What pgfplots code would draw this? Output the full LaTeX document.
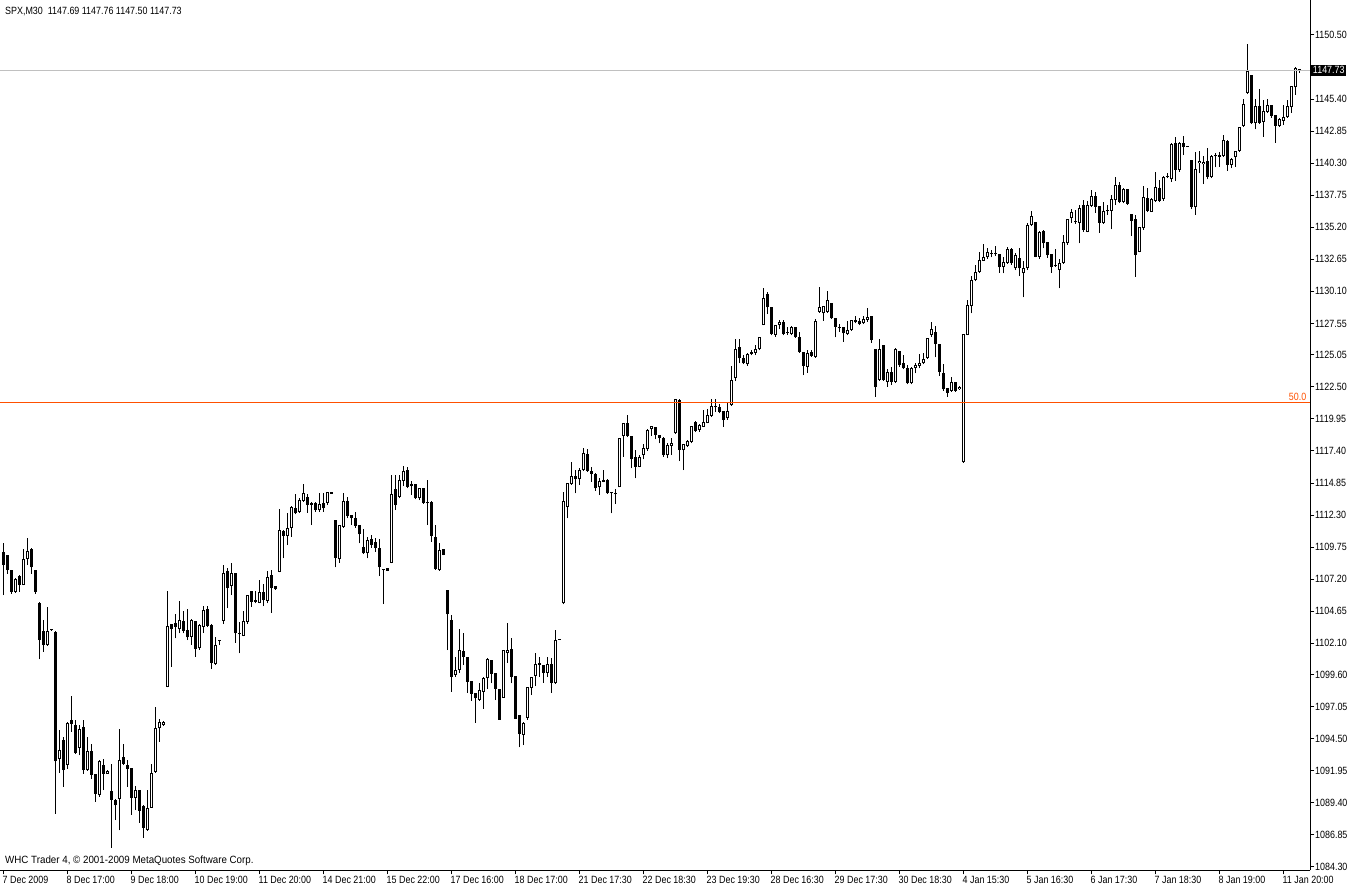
\documentclass[border=0pt]{standalone}
\usepackage{fontspec}
\setmainfont[FakeStretch=0.85]{Liberation Sans}
\newfontfamily\widefont[FakeStretch=0.93]{Liberation Sans}
\usepackage{pgfplots}
\usepackage{pgfplotstable}
\pgfplotsset{compat=1.18}
\definecolor{fibo}{RGB}{255,80,0}
\definecolor{bidline}{RGB}{192,192,192}
\newcommand\mt{\fontsize{10.5}{12}\selectfont}

% SPX M30 bars: index, open, high, low, close
\pgfplotstableread{
i o h l c
0 1109.38 1110.04 1105.93 1108.31
1 1109.11 1109.11 1107.65 1107.92
2 1107.92 1107.92 1106.06 1106.19
3 1106.19 1107.30 1106.10 1107.25
4 1107.44 1107.52 1106.19 1106.72
5 1106.72 1109.64 1106.70 1108.84
6 1108.84 1110.44 1108.31 1109.43
7 1109.64 1109.70 1107.65 1108.13
8 1107.92 1107.95 1106.01 1106.19
9 1105.32 1105.35 1100.81 1102.35
10 1103.06 1103.94 1101.42 1101.95
11 1101.95 1104.95 1101.90 1103.06
12 1103.22 1103.25 1103.10 1103.12
13 1103.01 1103.05 1088.55 1092.71
14 1092.93 1095.18 1091.81 1093.64
15 1094.39 1094.65 1090.67 1092.00
16 1092.40 1095.85 1092.13 1095.77
17 1096.03 1097.89 1095.05 1095.71
18 1095.58 1095.98 1093.30 1093.38
19 1093.80 1095.58 1093.19 1095.26
20 1095.45 1095.98 1091.73 1092.00
21 1092.00 1094.65 1091.95 1093.54
22 1093.54 1094.12 1091.34 1091.60
23 1091.68 1091.70 1089.48 1090.14
24 1090.06 1092.85 1089.88 1092.74
25 1092.45 1092.93 1090.41 1091.73
26 1091.73 1092.00 1091.70 1091.95
27 1090.33 1092.53 1085.82 1089.66
28 1089.66 1089.70 1088.02 1089.21
29 1089.74 1095.26 1087.22 1092.79
30 1093.06 1094.12 1092.40 1092.53
31 1092.45 1092.79 1090.67 1092.08
32 1092.18 1092.20 1088.47 1089.80
33 1089.80 1090.73 1088.82 1090.41
34 1090.41 1090.45 1087.81 1088.77
35 1089.14 1089.20 1086.62 1087.41
36 1087.28 1090.41 1087.20 1089.03
37 1089.03 1092.53 1089.00 1091.74
38 1091.87 1096.99 1091.80 1095.32
39 1095.32 1096.04 1094.26 1095.85
40 1095.58 1095.90 1095.55 1095.85
41 1098.64 1106.25 1098.60 1103.46
42 1103.62 1103.65 1100.23 1103.20
43 1103.68 1104.42 1102.48 1103.41
44 1103.20 1105.45 1102.88 1103.94
45 1103.86 1104.66 1102.88 1103.09
46 1103.15 1104.79 1102.35 1102.56
47 1102.61 1104.00 1101.95 1103.94
48 1103.86 1103.90 1101.02 1101.63
49 1101.69 1103.62 1101.60 1103.54
50 1103.41 1105.06 1102.93 1104.74
51 1104.79 1105.06 1103.40 1103.46
52 1103.54 1103.60 1100.04 1100.55
53 1100.44 1102.56 1100.36 1101.95
54 1102.32 1102.32 1101.95 1102.28
55 1103.89 1108.32 1103.62 1107.66
56 1107.84 1108.05 1104.87 1106.46
57 1106.65 1108.45 1105.93 1107.71
58 1107.66 1107.70 1102.14 1102.88
59 1102.86 1103.76 1101.29 1102.83
60 1102.69 1104.66 1102.65 1103.89
61 1103.81 1105.95 1103.62 1105.93
62 1106.25 1106.28 1105.00 1105.40
63 1105.53 1106.25 1105.27 1105.40
64 1105.32 1107.13 1105.27 1106.20
65 1106.20 1106.81 1105.06 1105.53
66 1105.48 1107.87 1105.27 1107.34
67 1107.52 1107.92 1104.52 1106.46
68 1106.65 1106.68 1106.35 1106.38
69 1107.79 1112.75 1107.75 1111.10
70 1111.05 1111.10 1108.85 1110.63
71 1110.63 1112.43 1109.91 1111.24
72 1111.31 1113.00 1110.57 1112.96
73 1112.83 1113.94 1112.35 1112.43
74 1112.56 1113.62 1112.50 1113.49
75 1113.44 1114.76 1113.36 1114.02
76 1113.76 1113.94 1112.48 1113.09
77 1113.09 1113.36 1111.50 1113.23
78 1113.23 1113.36 1112.56 1112.69
79 1112.69 1114.02 1112.56 1113.17
80 1113.23 1114.02 1112.56 1112.83
81 1113.28 1114.15 1113.09 1114.15
82 1114.10 1114.12 1113.98 1114.00
83 1111.90 1111.90 1108.13 1108.90
84 1108.77 1111.50 1108.50 1111.50
85 1111.37 1114.07 1111.30 1113.44
86 1113.44 1113.76 1112.03 1112.22
87 1112.30 1112.30 1111.50 1112.03
88 1112.08 1112.56 1111.31 1111.45
89 1111.50 1111.50 1110.04 1110.76
90 1109.78 1111.16 1109.20 1109.25
91 1109.25 1110.57 1108.85 1110.31
92 1110.36 1110.70 1109.70 1109.91
93 1110.17 1110.49 1109.38 1109.70
94 1109.70 1110.36 1107.44 1108.13
95 1108.00 1108.00 1105.21 1107.92
96 1108.08 1108.10 1107.85 1107.87
97 1108.50 1115.48 1108.45 1113.97
98 1114.34 1115.48 1112.69 1113.09
99 1113.76 1115.48 1113.62 1115.08
100 1115.00 1116.20 1114.60 1115.80
101 1115.88 1116.14 1114.42 1114.55
102 1114.60 1115.00 1113.89 1114.76
103 1114.76 1114.80 1113.54 1113.62
104 1113.62 1114.42 1113.49 1114.42
105 1114.42 1114.45 1113.20 1113.28
106 1113.36 1115.08 1111.50 1113.23
107 1113.36 1113.40 1110.17 1110.63
108 1110.52 1111.50 1107.95 1108.00
109 1107.92 1110.09 1107.87 1109.56
110 1109.64 1109.64 1109.10 1109.11
111 1106.33 1106.33 1101.55 1104.39
112 1103.99 1104.34 1098.24 1099.43
113 1099.56 1101.02 1099.43 1099.96
114 1099.96 1103.22 1099.75 1101.55
115 1101.47 1102.93 1100.36 1101.02
116 1101.02 1101.02 1098.16 1099.03
117 1099.11 1099.11 1097.52 1098.10
118 1098.16 1098.16 1095.77 1097.71
119 1097.57 1098.95 1097.52 1098.37
120 1098.24 1099.43 1096.91 1099.35
121 1099.30 1100.89 1098.50 1100.81
122 1100.76 1100.80 1098.90 1099.69
123 1099.75 1099.75 1097.57 1098.50
124 1098.50 1098.50 1096.00 1096.03
125 1097.78 1101.60 1097.75 1101.55
126 1101.34 1103.73 1100.54 1101.60
127 1101.68 1102.48 1098.90 1099.43
128 1099.48 1099.50 1096.10 1096.11
129 1096.38 1096.40 1093.81 1094.87
130 1094.79 1095.85 1093.99 1095.77
131 1096.14 1098.63 1096.00 1098.63
132 1098.58 1099.40 1097.97 1099.38
133 1099.48 1101.34 1098.69 1100.49
134 1100.57 1100.97 1099.43 1100.41
135 1100.41 1100.41 1098.95 1099.75
136 1099.75 1101.02 1099.43 1100.49
137 1100.49 1100.89 1098.16 1098.95
138 1098.90 1103.14 1098.85 1102.35
139 1102.43 1102.43 1102.38 1102.38
140 1105.27 1114.15 1105.20 1113.41
141 1112.96 1114.82 1112.03 1114.82
142 1114.76 1116.54 1114.70 1115.40
143 1115.40 1115.88 1114.02 1115.14
144 1115.14 1116.01 1114.68 1115.88
145 1115.88 1117.60 1115.80 1117.21
146 1117.15 1117.52 1115.75 1115.83
147 1115.80 1116.14 1114.95 1115.56
148 1115.56 1115.67 1114.23 1114.42
149 1114.50 1115.22 1113.89 1115.03
150 1115.08 1115.88 1114.90 1114.95
151 1115.08 1115.14 1114.00 1114.02
152 1114.10 1114.10 1112.43 1114.02
153 1114.02 1114.34 1113.17 1113.97
154 1114.50 1118.40 1114.50 1118.40
155 1118.58 1119.60 1116.94 1119.59
156 1119.59 1120.26 1118.50 1118.58
157 1118.58 1118.60 1116.01 1116.73
158 1116.89 1117.47 1115.22 1116.14
159 1116.14 1117.07 1116.10 1116.89
160 1117.07 1117.95 1116.73 1117.60
161 1117.52 1119.11 1117.40 1119.06
162 1119.11 1119.38 1118.58 1119.38
163 1119.33 1119.33 1118.32 1118.66
164 1118.66 1118.66 1118.00 1118.40
165 1118.40 1118.53 1116.94 1117.07
166 1117.07 1118.00 1116.81 1117.87
167 1117.82 1118.40 1117.07 1118.05
168 1118.80 1121.55 1118.75 1121.53
169 1121.45 1121.50 1116.59 1117.47
170 1117.47 1117.95 1115.88 1117.95
171 1117.79 1118.27 1117.70 1118.19
172 1118.13 1119.41 1118.00 1119.41
173 1119.67 1119.80 1118.90 1119.01
174 1119.06 1119.51 1118.93 1119.46
175 1119.33 1120.65 1119.30 1119.72
176 1119.65 1120.71 1119.60 1120.26
177 1120.20 1121.50 1120.10 1120.97
178 1121.00 1121.50 1120.50 1120.87
179 1120.92 1121.13 1120.40 1120.52
180 1120.57 1120.60 1119.33 1119.86
181 1119.99 1121.18 1119.90 1120.57
182 1121.05 1124.16 1121.00 1123.04
183 1123.23 1126.28 1122.96 1125.51
184 1125.69 1126.28 1124.37 1124.77
185 1124.82 1125.03 1124.30 1124.37
186 1124.29 1125.22 1124.20 1125.11
187 1125.30 1125.43 1125.00 1125.11
188 1125.22 1125.83 1125.03 1125.48
189 1125.48 1126.44 1125.40 1126.44
190 1127.42 1130.34 1127.40 1129.54
191 1129.89 1130.07 1128.29 1128.82
192 1128.82 1128.82 1126.60 1126.70
193 1126.62 1127.42 1126.49 1127.42
194 1127.42 1127.82 1127.07 1127.68
195 1127.68 1127.82 1126.60 1126.70
196 1126.83 1127.29 1126.62 1126.78
197 1126.70 1127.34 1126.60 1127.23
198 1127.23 1127.29 1126.40 1126.44
199 1126.44 1126.89 1125.20 1125.30
200 1125.30 1125.30 1123.44 1124.16
201 1124.10 1125.43 1123.62 1125.22
202 1125.30 1125.43 1124.90 1124.95
203 1124.90 1127.87 1124.80 1127.76
204 1128.48 1130.42 1128.40 1128.88
205 1128.35 1128.93 1127.76 1128.93
206 1128.48 1130.12 1128.40 1129.41
207 1129.14 1129.14 1127.90 1127.95
208 1127.95 1127.95 1126.44 1127.29
209 1127.21 1127.50 1126.90 1127.15
210 1127.29 1127.29 1126.09 1126.76
211 1126.70 1127.76 1126.60 1127.02
212 1127.02 1127.85 1126.95 1127.82
213 1127.82 1128.13 1127.55 1127.63
214 1127.76 1127.95 1127.40 1127.50
215 1127.55 1128.13 1127.50 1127.87
216 1127.82 1128.75 1127.70 1128.08
217 1128.13 1128.15 1126.01 1126.22
218 1125.51 1125.51 1121.71 1122.46
219 1123.04 1126.28 1123.00 1125.51
220 1125.83 1125.83 1123.00 1123.04
221 1122.91 1123.89 1122.51 1123.70
222 1123.70 1124.10 1122.64 1122.91
223 1122.91 1125.56 1122.80 1125.51
224 1125.35 1125.35 1124.10 1124.23
225 1124.37 1125.03 1123.90 1123.97
226 1123.97 1124.23 1122.70 1122.78
227 1122.78 1124.05 1122.70 1123.97
228 1123.97 1124.37 1123.57 1124.24
229 1124.16 1125.11 1123.97 1124.37
230 1124.37 1125.16 1124.30 1124.69
231 1124.77 1126.36 1124.70 1126.36
232 1126.63 1127.69 1126.50 1127.08
233 1126.84 1127.34 1124.85 1125.91
234 1125.91 1125.91 1123.39 1123.71
235 1123.57 1124.32 1122.20 1122.30
236 1122.38 1122.38 1121.72 1122.04
237 1122.19 1123.26 1122.10 1122.86
238 1122.86 1122.91 1122.10 1122.19
239 1122.30 1122.57 1122.28 1122.51
240 1116.49 1126.70 1116.45 1126.68
241 1126.63 1129.41 1126.60 1129.01
242 1128.93 1131.32 1128.35 1131.00
243 1131.00 1132.20 1130.90 1131.67
244 1131.67 1133.26 1131.60 1132.59
245 1132.54 1133.87 1132.50 1132.86
246 1132.81 1133.52 1132.70 1133.20
247 1133.13 1133.39 1132.81 1133.10
248 1133.07 1133.71 1132.90 1133.05
249 1133.07 1133.07 1131.59 1132.01
250 1132.06 1132.81 1131.53 1132.46
251 1132.38 1133.65 1132.30 1133.44
252 1133.44 1133.52 1132.20 1132.33
253 1131.93 1133.13 1131.80 1133.00
254 1132.73 1133.52 1131.32 1131.93
255 1131.53 1132.54 1129.62 1131.93
256 1131.93 1135.57 1131.80 1135.38
257 1135.38 1136.52 1135.30 1136.10
258 1135.65 1135.65 1132.80 1132.86
259 1132.86 1134.93 1132.70 1134.85
260 1134.93 1135.00 1133.52 1133.92
261 1134.00 1134.00 1132.78 1132.99
262 1133.07 1133.07 1131.59 1132.01
263 1132.12 1133.44 1132.06 1132.09
264 1131.80 1132.65 1130.34 1132.38
265 1132.38 1134.58 1132.30 1134.00
266 1133.92 1135.83 1133.80 1135.83
267 1135.91 1136.63 1135.56 1136.44
268 1135.73 1136.57 1135.50 1135.59
269 1135.56 1136.97 1133.92 1136.71
270 1136.97 1137.37 1134.85 1134.98
271 1134.85 1137.32 1134.80 1136.97
272 1136.89 1138.17 1136.80 1137.69
273 1137.69 1138.03 1136.36 1136.84
274 1136.89 1136.89 1134.77 1135.56
275 1135.56 1137.24 1135.50 1136.52
276 1136.50 1136.97 1136.18 1136.47
277 1136.52 1137.77 1135.03 1137.42
278 1137.37 1139.17 1136.97 1138.56
279 1138.56 1138.83 1137.10 1137.24
280 1137.24 1138.30 1137.10 1138.22
281 1138.22 1138.22 1137.00 1137.05
282 1136.25 1136.25 1134.50 1135.72
283 1135.83 1136.17 1131.27 1132.99
284 1133.26 1135.20 1133.20 1135.19
285 1135.11 1138.48 1135.00 1137.58
286 1137.50 1138.30 1136.40 1136.52
287 1136.44 1137.50 1136.40 1137.42
288 1137.32 1139.62 1137.20 1138.38
289 1138.30 1138.96 1137.20 1137.32
290 1137.42 1139.28 1137.30 1139.23
291 1139.17 1139.54 1139.10 1139.28
292 1139.01 1141.88 1138.83 1141.83
293 1141.88 1142.36 1138.91 1139.76
294 1139.76 1142.01 1139.63 1141.88
295 1141.88 1142.46 1140.95 1141.62
296 1141.63 1141.65 1141.58 1141.60
297 1140.55 1140.55 1136.63 1136.84
298 1136.79 1141.22 1136.18 1139.81
299 1140.29 1141.30 1139.49 1140.47
300 1140.21 1140.87 1138.64 1140.42
301 1140.47 1141.48 1139.01 1139.23
302 1139.17 1140.95 1139.10 1140.87
303 1140.90 1141.08 1139.97 1140.85
304 1140.82 1141.22 1140.03 1140.95
305 1140.87 1142.54 1140.80 1142.14
306 1142.07 1142.14 1139.70 1140.16
307 1140.16 1140.69 1139.89 1140.61
308 1140.77 1141.30 1140.03 1141.30
309 1141.30 1143.15 1141.20 1143.15
310 1143.26 1145.38 1143.20 1145.01
311 1145.91 1149.79 1145.80 1147.64
312 1147.32 1147.32 1143.40 1143.47
313 1143.47 1145.38 1142.99 1144.85
314 1144.85 1146.18 1143.40 1143.52
315 1143.60 1145.33 1142.41 1144.45
316 1144.40 1145.38 1144.30 1144.93
317 1144.93 1144.93 1143.90 1144.06
318 1144.14 1144.14 1141.93 1143.26
319 1143.26 1143.87 1143.20 1143.79
320 1143.68 1144.93 1143.34 1143.95
321 1143.95 1145.33 1143.90 1144.85
322 1144.75 1146.44 1144.32 1146.44
323 1146.34 1147.93 1145.73 1147.85
324 1147.69 1147.76 1147.50 1147.73
}\candles

\begin{document}
\begin{tikzpicture}
\path[use as bounding box] (0,0) rectangle (1347pt,886pt);
\begin{axis}[
    at={(0pt,15.5pt)}, anchor=south west,
    scale only axis,
    width=1310.5pt, height=870.5pt,
    xmin=-0.875, xmax=326.75,
    ymin=1084.02, ymax=1153.285,
    axis x line=bottom, axis y line=right,
    axis line style={-, black, line width=1pt},
    every outer x axis line/.append style={-},
    every outer y axis line/.append style={-},
    tick align=outside,
    major tick length=4pt,
    tick style={black, line width=1pt},
    xtick={0,16,...,320},
    xticklabels={7 Dec 2009, 8 Dec 17:00, 9 Dec 18:00, 10 Dec 19:00, 11 Dec 20:00,
        14 Dec 21:00, 15 Dec 22:00, 17 Dec 16:00, 18 Dec 17:00, 21 Dec 17:30,
        22 Dec 18:30, 23 Dec 19:30, 28 Dec 16:30, 29 Dec 17:30, 30 Dec 18:30,
        4 Jan 15:30, 5 Jan 16:30, 6 Jan 17:30, 7 Jan 18:30, 8 Jan 19:00, 11 Jan 20:00},
    ytick={1150.50,1145.40,1142.85,1140.30,1137.75,1135.20,1132.65,1130.10,1127.55,
        1125.05,1122.50,1119.95,1117.40,1114.85,1112.30,1109.75,1107.20,1104.65,
        1102.10,1099.60,1097.05,1094.50,1091.95,1089.40,1086.85,1084.30},
    yticklabels={1150.50,1145.40,1142.85,1140.30,1137.75,1135.20,1132.65,1130.10,1127.55,
        1125.05,1122.50,1119.95,1117.40,1114.85,1112.30,1109.75,1107.20,1104.65,
        1102.10,1099.60,1097.05,1094.50,1091.95,1089.40,1086.85,1084.30},
    tick label style={font=\mt},
    xticklabel style={anchor=north west, inner sep=0pt, xshift=-1pt, yshift=-1pt},
    yticklabel style={anchor=west, inner sep=0pt, xshift=0.5pt},
    clip mode=individual,
    candle/.style={only marks, mark=*, mark size=0.1pt,
        mark options={draw=none, fill=none, opacity=0}},
]
% wicks
\addplot[black, candle,
    error bars/.cd, y dir=plus, y explicit, error mark=none,
    error bar style={line width=1pt, black, opacity=1}]
    table[x=i, y=l, y error plus expr={\thisrow{h}-\thisrow{l}}] {\candles};
% bodies
\addplot[black, candle,
    error bars/.cd, y dir=plus, y explicit, error mark=none,
    error bar style={line width=3pt, black, opacity=1}]
    table[x=i, y expr={min(\thisrow{o},\thisrow{c})},
          y error plus expr={max(abs(\thisrow{c}-\thisrow{o}),0.08)}] {\candles};
% hollow inside of the rising bars
\addplot[white, candle,
    restrict expr to domain={\thisrow{c}-\thisrow{o}}{0.17:1000},
    error bars/.cd, y dir=plus, y explicit, error mark=none,
    error bar style={line width=1pt, white, opacity=1}]
    table[x=i, y expr={\thisrow{o}+0.08},
          y error plus expr={\thisrow{c}-\thisrow{o}-0.16}] {\candles};

\addplot[fibo, line width=1pt] coordinates {(-0.875,1121.26) (326.75,1121.26)};
\addplot[bidline, line width=1pt] coordinates {(-0.875,1147.70) (326.75,1147.70)};

\node[anchor=south east, text=fibo, font=\mt, inner sep=0pt, xshift=-4pt, yshift=2pt]
    at (axis cs:326.75,1121.26) {50.0};
\node[anchor=west, fill=black, text=white, font=\mt, inner xsep=1.8pt, inner ysep=1.6pt, xshift=0.5pt]
    at (axis cs:326.75,1147.70) {1147.73};
\node[anchor=base west, font=\mt, inner sep=0pt, xshift=5pt, yshift=-15pt]
    at (rel axis cs:0,1) {SPX,M30\ \ 1147.69 1147.76 1147.50 1147.73};
\node[anchor=base west, font=\mt\widefont, inner sep=0pt, xshift=5pt, yshift=7pt]
    at (rel axis cs:0,0) {WHC Trader 4, © 2001-2009 MetaQuotes Software Corp.};
\end{axis}
\end{tikzpicture}
\end{document}
